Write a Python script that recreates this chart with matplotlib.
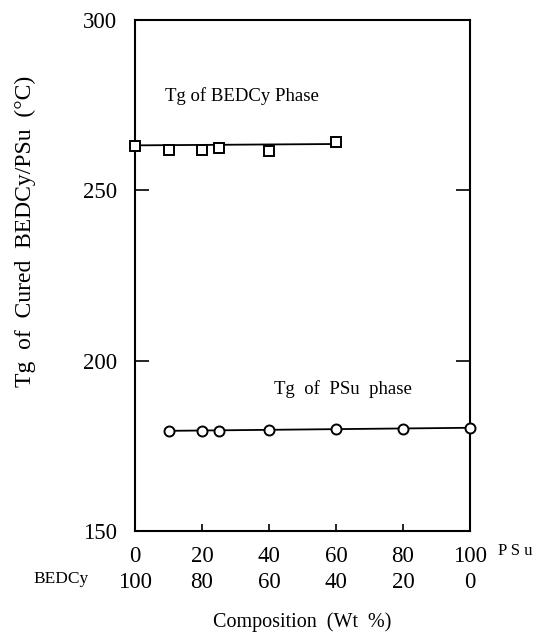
import matplotlib
matplotlib.use("Agg")
import matplotlib.pyplot as plt

plt.rcParams['font.family'] = ['Liberation Serif', 'DejaVu Serif']

# data
bedcy_x = [0, 10, 20, 25, 40, 60]
bedcy_tg = [263.1, 261.9, 261.9, 262.4, 261.6, 264.3]
bedcy_fit_x = [0, 60]
bedcy_fit_y = [263.2, 263.6]

psu_x = [10, 20, 25, 40, 60, 80, 100]
psu_tg = [179.3, 179.5, 179.5, 179.7, 180.0, 180.0, 180.3]
psu_fit_x = [10, 100]
psu_fit_y = [179.4, 180.3]

x_ticks = [0, 20, 40, 60, 80, 100]
bedcy_ticks = [100, 80, 60, 40, 20, 0]
y_ticks = [150, 200, 250, 300]

W, H = 541, 637
fig = plt.figure(figsize=(W / 100, H / 100), dpi=100)
ax = fig.add_axes([135 / W, 1 - 531 / H, (470 - 135) / W, (531 - 20) / H])

ax.plot(bedcy_fit_x, bedcy_fit_y, color='black', lw=1.3, zorder=2)
ax.plot(bedcy_x, bedcy_tg, linestyle='none', marker='s', ms=7.5, mfc='white',
        mec='black', mew=1.4, zorder=3, clip_on=False)
ax.plot(psu_fit_x, psu_fit_y, color='black', lw=1.3, zorder=2)
ax.plot(psu_x, psu_tg, linestyle='none', marker='o', ms=7.2, mfc='white',
        mec='black', mew=1.4, zorder=3, clip_on=False)

ax.set_xlim(0, 100)
ax.set_ylim(150, 300)
ax.set_xticks(x_ticks)
ax.set_xticklabels([f"{a}\n{b}" for a, b in zip(x_ticks, bedcy_ticks)],
                   fontsize=16.5, linespacing=1.28)
ax.set_yticks(y_ticks)
ax.set_yticklabels([str(v) for v in y_ticks], fontsize=16.5)
ax.tick_params(axis='x', direction='in', length=5, width=1.2, pad=11)
ax.tick_params(axis='y', direction='in', length=10, width=1.2, pad=13,
               right=True)
for s in ax.spines.values():
    s.set_linewidth(1.5)

ax.text(9, 277.7, 'Tg of BEDCy Phase', fontsize=13.5, va='center', ha='left')
ax.text(41.5, 191.8, 'Tg  of  PSu  phase', fontsize=13.5, va='center', ha='left')

fig.text(25 / W, 1 - 231 / H, 'Tg  of  Cured  BEDCy/PSu  (°C)', rotation=90,
         fontsize=17, ha='center', va='center')
fig.text(302 / W, 1 - 622 / H, 'Composition  (Wt  %)', fontsize=14.5,
         ha='center', va='center')
fig.text(61 / W, 1 - 579 / H, 'BEDCy', fontsize=12.5, ha='center', va='center')
fig.text(515 / W, 1 - 551 / H, 'P S u', fontsize=12, ha='center', va='center')

fig.savefig('out.png', dpi=100)
